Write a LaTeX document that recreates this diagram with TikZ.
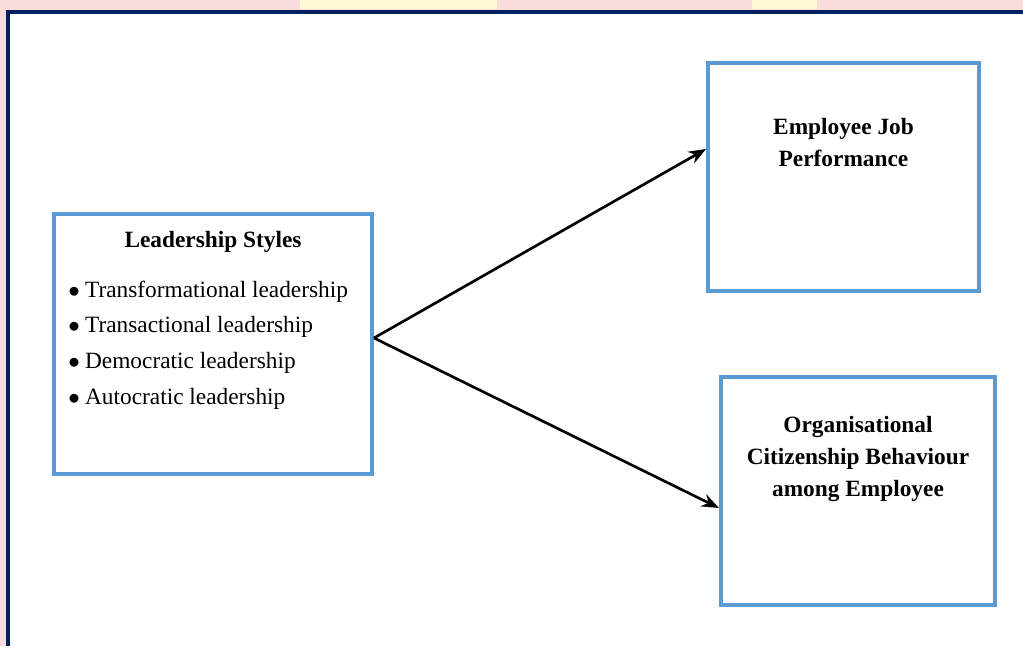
\documentclass[tikz,border=0pt]{standalone}
\usepackage{fontspec}
\setmainfont{Liberation Serif}
\usetikzlibrary{positioning,arrows.meta}

\definecolor{boxblue}{HTML}{5B9BD5}
\definecolor{framenavy}{HTML}{002060}
\definecolor{slidepink}{HTML}{FADCDC}
\definecolor{slideyellow}{HTML}{FFF9D6}

\tikzset{
  varbox/.style={draw=boxblue, line width=3pt, rectangle, fill=white},
  boxtitle/.style={font=\bfseries\fontsize{17.5}{24}\selectfont, align=center},
  itemlist/.style={font=\fontsize{17.5}{26.7}\selectfont, align=left, inner sep=0pt},
  link/.style={-{Stealth[length=13pt,width=10pt]}, line width=2pt, black}
}

\begin{document}
\begin{tikzpicture}[x=0.75pt, y=-0.75pt]
  %slide background and frame
  \fill[white] (0,0) rectangle (1023,646);
  \fill[slidepink] (0,0) rectangle (1023,10);
  \fill[slidepink] (0,0) rectangle (6,646);
  \fill[slideyellow] (300,0) rectangle (497,9);
  \fill[slideyellow] (752,0) rectangle (817,9);
  \useasboundingbox (0,0) rectangle (1023,646);
  \draw[framenavy, line width=3pt] (8,646) -- (8,11.5) -- (1023,11.5);
  %boxes
  \node[varbox, minimum width=238.5pt, minimum height=195pt] (lead) at (213,344) {};
  \node[varbox, minimum width=203.25pt, minimum height=171pt] (job) at (843.5,177) {};
  \node[varbox, minimum width=205.5pt, minimum height=171pt] (ocb) at (858,491) {};
  %texts inside the boxes
  \node[boxtitle] (leadtitle) at ([yshift=-22.5pt]lead.north) {Leadership Styles};
  \node[itemlist, anchor=west] (leaditems) at (68,345) {%
    $\bullet$\hspace{4pt}Transformational leadership\\
    $\bullet$\hspace{4pt}Transactional leadership\\
    $\bullet$\hspace{4pt}Democratic leadership\\
    $\bullet$\hspace{4pt}Autocratic leadership};
  \node[boxtitle] (jobtitle) at ([yshift=-61.5pt]job.north) {Employee Job\\Performance};
  \node[boxtitle] (ocbtitle) at ([yshift=-63pt]ocb.north) {Organisational\\Citizenship Behaviour\\among Employee};
  %arrows
  \coordinate (split) at ([yshift=4.5pt]lead.east);
  \draw[link] (split) -- ([yshift=21pt]job.west);
  \draw[link] (split) -- ([yshift=-12.75pt]ocb.west);
\end{tikzpicture}
\end{document}
